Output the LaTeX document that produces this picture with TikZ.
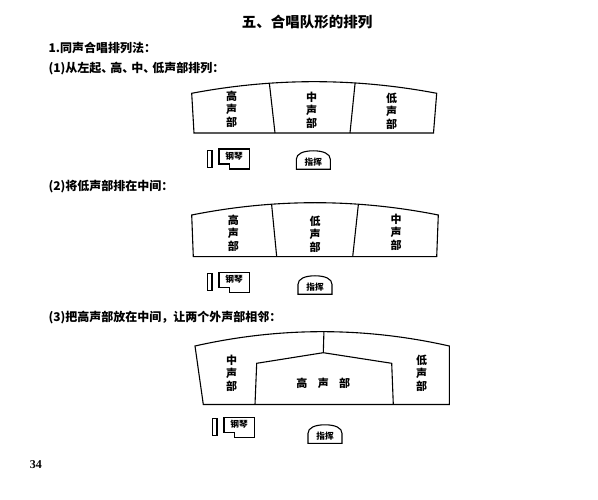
\documentclass[tikz,border=0pt]{standalone}
\usepackage{fontspec}
\setmainfont{Liberation Serif}
\newfontfamily\cjk{Noto Sans CJK SC}
\newcommand{\drawconductor}[3]{%
  \begin{scope}[shift={(#1,#2)}]
    \draw (-17,0) -- (-17,-10) .. controls (-17,-15.5) and (-10,-18.5) .. (0,-18.5)
      .. controls (10,-18.5) and (17,-15.5) .. (17,-10) -- (17,0) -- cycle;
    \node[smalllbl] (#3) at (0,-7) {指挥};
  \end{scope}}
\newcommand{\drawpiano}[3]{%
  \begin{scope}[shift={(#1,#2)}]
    \draw (-11.5,1.5) rectangle (-7,18.5);
    \draw (0,0) -- (30.5,0) -- (30.5,20) -- (10.5,20) -- (10.5,15) -- (0,15) -- cycle;
    \node[smalllbl] (#3) at (15,7) {钢琴};
  \end{scope}}
\begin{document}
\begin{tikzpicture}[x=1pt,y=-1pt,line width=1.1pt,line join=miter,
  lbl/.style={font=\cjk\bfseries\fontsize{11}{13}\selectfont,align=center,inner sep=0pt},
  head/.style={font=\cjk\bfseries\fontsize{12}{14}\selectfont,anchor=west,inner sep=0pt},
  smalllbl/.style={font=\cjk\bfseries\fontsize{8.7}{10}\selectfont,inner sep=0pt}]
\useasboundingbox (0,0) rectangle (598,500);

% headings
\node[font=\cjk\bfseries\fontsize{14.5}{16}\selectfont,inner sep=0pt] (title) at (307,22) {五、合唱队形的排列};
\node[head] (h1) at (48,48) {1.同声合唱排列法：};
\node[head] (h2) at (48,69) {(1)从左起、\hspace{-0.25em}高、\hspace{-0.25em}中、\hspace{-0.25em}低声部排列：};
\node[head] (h3) at (48,187) {(2)将低声部排在中间：};
\node[head] (h4) at (48,318) {(3)把高声部放在中间，让两个外声部相邻：};
\node[font=\bfseries\fontsize{12}{14}\selectfont,inner sep=0pt] (pg) at (36,465) {34};

% diagram 1
\coordinate (A1) at (191.7,93.3);
\coordinate (B1) at (436.7,93.3);
\coordinate (A1b) at (194,133);
\coordinate (B1b) at (433.5,133);
\draw (A1b) -- (A1) .. controls (273.4,77.8) and (355.0,77.8) .. (B1)
  coordinate[pos=0.317] (t11) coordinate[pos=0.667] (t12) -- (B1b) -- cycle;
\coordinate (u11) at (275,133);
\coordinate (u12) at (350,133);
\draw (t11) -- (u11);
\draw (t12) -- (u12);
\node[lbl] (g1) at (231.7,109.5) {高\\声\\部};
\node[lbl] (z1) at (311.7,110.5) {中\\声\\部};
\node[lbl] (d1) at (391.7,111.5) {低\\声\\部};
\drawpiano{219}{149}{p1}
\drawconductor{313.3}{169.3}{c1}

% diagram 2
\coordinate (A2) at (191.7,215);
\coordinate (B2) at (438.3,215);
\coordinate (A2b) at (193.3,256.7);
\coordinate (B2b) at (436.7,256.7);
\draw (A2b) -- (A2) .. controls (273.9,198.6) and (356.1,198.6) .. (B2)
  coordinate[pos=0.324] (t21) coordinate[pos=0.676] (t22) -- (B2b) -- cycle;
\coordinate (u21) at (276.7,256.7);
\coordinate (u22) at (352.7,256.7);
\draw (t21) -- (u21);
\draw (t22) -- (u22);
\node[lbl] (g2) at (233.3,233.5) {高\\声\\部};
\node[lbl] (d2) at (315,234) {低\\声\\部};
\node[lbl] (z2) at (396,232) {中\\声\\部};
\drawpiano{219}{272.3}{p2}
\drawconductor{315}{294.3}{c2}

% diagram 3
\coordinate (A3) at (195,346);
\coordinate (B3) at (449.3,346);
\coordinate (A3b) at (203.3,404.5);
\coordinate (B3b) at (449.3,404.5);
\draw (A3b) -- (A3) .. controls (279.8,326.9) and (364.5,326.9) .. (B3)
  coordinate[pos=0.507] (t31) -- (B3b) -- cycle;
\coordinate (I3) at (323.3,352.7);
\coordinate (L3) at (256.7,363.3);
\coordinate (L3b) at (255,404.5);
\coordinate (R3) at (391.7,363.3);
\coordinate (R3b) at (393.3,404.5);
\draw (t31) -- (I3);
\draw (L3b) -- (L3) -- (I3) -- (R3) -- (R3b);
\node[lbl] (z3) at (231.7,373.3) {中\\声\\部};
\node[lbl] (d3) at (421.7,373.3) {低\\声\\部};
\node[lbl] (g3) at (323.3,383.3) {高\hspace{0.95em}声\hspace{0.95em}部};
\drawpiano{224}{417.3}{p3}
\drawconductor{325}{443.3}{c3}
\end{tikzpicture}
\end{document}
